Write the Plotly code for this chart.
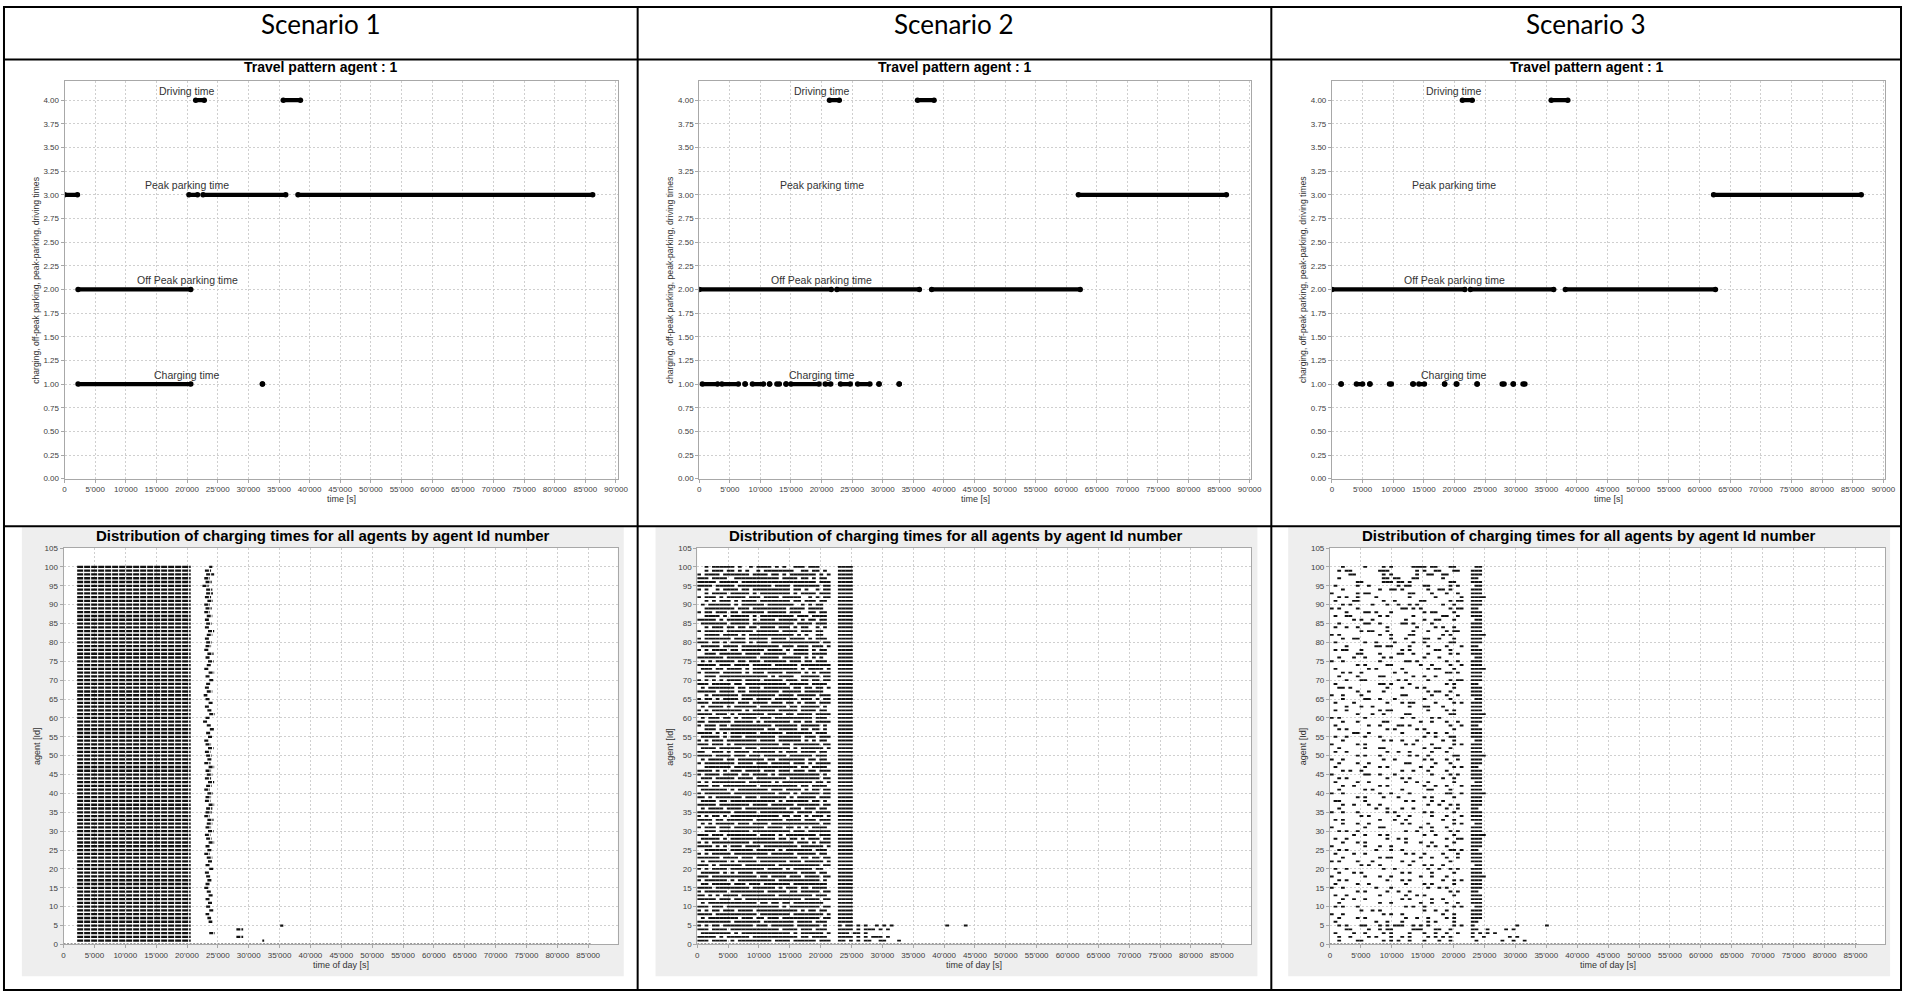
import plotly.graph_objects as go

W, H = 1914, 996
FONT = "Liberation Sans, Arial, sans-serif"

SCENARIOS = ["Scenario 1", "Scenario 2", "Scenario 3"]
TOP_TITLE = "Travel pattern agent : 1"
BOTTOM_TITLE = "Distribution of charging times for all agents by agent Id number"

# ---------------- travel pattern of agent 1: (start, end) in seconds ----------------
STATE_LEVELS = [4, 3, 2, 1]
STATE_LABELS = ["Driving time", "Peak parking time", "Off Peak parking time", "Charging time"]
LABEL_TIME = 20000

S1_PATTERN = {
    4: [(21400, 22800), (35700, 38500)],
    3: [(0, 2100), (20300, 21700), (22600, 36100), (38100, 86200)],
    2: [(2200, 20600)],
    1: [(2200, 20600), (32300, 32300)],
}
S2_PATTERN = {
    4: [(21300, 22900), (35700, 38400)],
    3: [(62000, 86200)],
    2: [(0, 21600), (22500, 36000), (38000, 62300)],
    1: [(500, 3000), (3700, 6400), (7500, 7500), (8700, 10500), (11500, 11500),
        (12700, 13100), (14200, 14200), (15000, 19600), (20600, 21500),
        (23100, 24700), (25900, 27900), (29400, 29400), (32700, 32700)],
}
S3_PATTERN = {
    4: [(21300, 22900), (35800, 38500)],
    3: [(62300, 86400)],
    2: [(0, 21700), (22600, 36200), (38100, 62600)],
    1: [(1500, 1500), (4000, 5000), (6200, 6200), (9400, 9700), (13200, 13300),
        (14200, 15100), (18400, 18400), (20300, 20400), (23700, 23700),
        (27800, 28100), (29600, 29600), (31200, 31500)],
}
PATTERNS = [S1_PATTERN, S2_PATTERN, S3_PATTERN]

# ---------------- charging times of all agents ----------------
ZERO_ROW = (0, 85500)          # time-stamp row drawn at agent 0

# scenario 1: every agent charges over one common block, then once more later
S1_BLOCK = (2200, 20600)
S1_LATE = [  # agents 100 -> 1
    (23600, 24100), (22900, 23900), (23100, 24400), (22800, 23700), (23000, 24000),
    (22500, 23500), (23100, 24100), (23100, 24200), (22900, 23900), (23300, 24200),
    (22800, 23700), (23000, 24000), (22800, 23700), (23200, 24100), (22900, 23700),
    (23100, 24000), (22900, 23700), (23400, 24400), (23200, 24100), (22900, 23700),
    (23100, 24000), (23000, 23900), (22800, 23600), (23300, 24300), (23000, 23800),
    (23400, 24300), (23200, 24000), (22800, 23600), (23500, 24400), (23000, 23700),
    (23600, 24400), (23100, 23800), (22900, 23700), (23200, 24100), (22700, 23300),
    (23000, 23700), (23500, 24300), (22900, 23600), (23300, 24000), (23600, 24500),
    (23000, 23800), (22600, 23300), (23200, 24000), (23700, 24400), (23100, 23900),
    (23400, 24200), (22800, 23500), (23000, 23900), (23400, 24300), (22900, 23800),
    (23100, 24000), (23300, 24100), (22800, 23800), (23500, 24400), (23000, 23900),
    (23200, 24100), (22900, 23900), (23400, 24400), (23100, 24000), (22800, 23700),
    (23300, 24200), (23000, 23900), (22900, 23800), (23500, 24400), (23100, 24100),
    (23000, 24000), (22800, 23700), (23300, 24300), (23200, 24100), (23000, 23900),
    (23400, 24300), (22900, 23800), (23100, 24000), (23500, 24400), (23000, 23800),
    (23300, 24100), (22800, 23700), (23200, 24100), (23400, 24200), (23000, 23800),
    (23600, 24400), (22900, 23700), (23100, 23900), (23300, 24100), (23000, 23700),
    (22800, 23600), (23200, 24000), (23500, 24200), (23000, 23700), (23400, 24100),
    (23100, 23800), (23600, 24300), (23000, 23600), (23300, 23900), (23500, 24100),
    (35100, 35600), (28000, 29100), (23600, 24500), (28000, 29100), (32200, 32500),
]

# scenarios 2 and 3: one character per 600 s slot, '#' = charging.
# Text after '|' continues from slot 38 (22'800 s). Rows run from agent 100 down to 1.
SLOT = 600
LATE_SLOT = 38

S2_ROWS = [
    "..#.## ####.# ..#.## ##.#.# ..###. ###...|####",
    "..#.## #.##.# .#..#. ###### ##..## .##.#.|####",
    "#.#### .##### ##.### #.##.# .##### ##.#.#|####",
    "###.## ##..## ###### ####.# ###.## .#.##.|####",
    "#####. #####. ###### ###### ###### ##.###|####",
    "####.# ####.# ###### ##.### #.#### ###.##|####",
    "#.#..# .####. ##.### ###### #.##.# ..#.##|####",
    "..#.## ##.### ##.#.# ###### #.#.## ##.###|####",
    "#.###. #.#### #.###. ####.# ####.. #.#.##|####",
    "..#.#. ###.#. ####.# ###### #.##.# ##.##.|####",
    ".#.### ###.#. ###### .##### ##..#. #.##..|####",
    "..#### ####.# ##.### ###### .####. ####..|####",
    "#.##.# ##.##. ###### .##### .###.. ##.##.|####",
    "..#### .#.### ##.#.# ###### ##.### .####.|####",
    "#####. #.#### ##.#.# ###.## ###.#. ##.##.|####",
    ".##### ##.### ##.### ###### ##.### #.###.|####",
    "..#.## #.##.# #.##.# ###.## #.#.## ..#.#.|####",
    "#.#### #.#### ###.## ####.# ###.## #.##..|####",
    "..#### .####. #.#### ###### ##.#.# ..##..|####",
    "#.#### ###.## #.#### #.#### .####. #.###.|####",
    "###.## .#.### #.#.## #.#### ###### ###.##|####",
    ".##### .####. ###### ####.# ##.### .###.#|####",
    "#.#.## ##.##. ###### .####. #.#### .#.##.|####",
    "..###. ###### .####. ###### ..#### .####.|####",
    "###### #.#### ####.# ####.# ####.# .#.#..|####",
    ".#.#.# ####.# #.###. ###### .###.# #.###.|####",
    "#####. ###.## ##.### ##.### ###.## ######|####",
    ".###.# #.#### .#.### ###### ###.#. ####.#|####",
    "#.#### .##### .#.### .####. ####.# .#.###|####",
    "..###. ###### ###### #.#.## ##..## ###.##|####",
    "#.#.#. #.#### .####. #####. ###.## .##.##|####",
    "###.## ###.## .##### ###### .##### .####.|####",
    ".#.### ####.# #.###. ###### #.##.# #.##.#|####",
    "#####. ####.# #.#### ####.# ####.# ####..|####",
    "..#.## #####. ###### ###.## ##.### ##.###|####",
    "#.##.# .####. ###.## ##.### ###.## #.#.##|####",
    "###.## ####.# ##.### #.###. ##.#.# ##.###|####",
    ".#.### #.#.## ####.# ###### .##.## ###.#.|####",
    "#.#.## ###### .#.### ###.## ###.## ##.##.|####",
    "####.# ##.#.# ###### .####. ##.### #.####|####",
    ".#.### .##.#. ####.# ##.### ###### #.###.|####",
    "##.### ###.## ###.#. ###### #.##.# #.####|####",
    "#.###. ##.### ###### ##.### ###.## ###.#.|####",
    "..###. ###### ###### .##.## ###.## .##.#.|####",
    "####.# .#.### ####.# #####. ###### #.###.|####",
    ".##### .#.### .##### ###.## ####.# ##.###|####",
    "#.#.## #.#### ####.# ###.## ####.# .#.##.|####",
    "###.## #.#.## ###### ####.# #.#### ###.##|####",
    ".####. ###### .###.# ###### #.#.## ####.#|####",
    "##..## #.#.## ##.### ###.#. ###.## ##.##.|####",
    "####.# ###.## #.###. ###### .##### #.###.|####",
    ".#.### #.##.# ###### .##.## #####. ##.##.|####",
    "#.#### ####.# ###.## #.#### #.###. #.####|####",
    "..#### ###.## ###### ###### ###.## .####.|####",
    "####.# .#.### .####. ###.## #.###. ##.###|####",
    "#.#### .####. ##.### #.#.## ###### ###.#.|####",
    ".###.# ####.# ###.## ###### .##### ###.##|####",
    "#.#.## ###### #.#### ##.#.# ###### #.##.#|####",
    "###.## .##### ####.# ###### ###.## .####.|####",
    ".##### ##.#.# ###### #.###. ####.# .##.##|####",
    "#.#### ###.## ###### ###.## #.#.## ###.##|####",
    "##.#.# ###### .###.# ###### .#.### ##.###|####",
    ".####. ##.### ###### ###.#. ###### .##.#.|####",
    "#####. ###### ##.### #.#### ##.### ###.##|####",
    ".#.### #.#### .##### ###### .###.# ##.##.|####",
    "###### ###.## ####.# ###### ##.### #.####|####",
    "#.#.## .#.### ###### ####.# #.##.# .###.#|####",
    "####.# #.#### ###.## #####. ####.# ##.###|####",
    ".#.#.# ####.# ##.### #.#### ###### ###.##|####",
    "#.###. ###.## ###### .####. ##.#.# .####.|####",
    "..###. ###### ##.### ###### #.###. ######|####",
    "###.## #.#### ####.# ###.#. ###### ##.###|####",
    ".##### .#.### ###### ###.## .##.#. ###.##|####",
    "#.#.## ###### ##.### ###### ##.### .#.###|####",
    "####.# .#.### .####. ###### ###.## ####.#|####",
    "..#### ##.### ###.## ###.#. ###### #.###.|####",
    "#.#.## ###.## ###### #.#### ##.### ##.##.|####",
    "###### .####. ###.## ###### ###.## .##.##|####",
    ".#.### ##.#.# ####.# ###### .###.# ####.#|####",
    "###.#. ###### .##### ###.## ###### ###.##|####",
    "#.#.## ##.### ###### .####. #.#### #.##..|####",
    ".##### .#.#.# ###.## ###### ###.## ##.##.|####",
    "###.## ###### ####.# #.#### .###.# ###.##|####",
    "#.#### ##.#.# ###### ###.## ###### ###.#.|####",
    ".##.## ###.## #.###. ###### #.#### #####.|####",
    "####.# ###### ##.### ###.#. ###.## .####.|####",
    "#.#### ##.### ###### .##### .##.## ###.##|####",
    "##.#.# .####. ###### ###.## ###### #.###.|####",
    "#####. ###.## .##### ###### ####.# ###.##|####",
    ".#.### ###### ####.# #.##.# #.#### ####..|####",
    "###.## #.#### ###### ####.# .##### ###.##|####",
    "#.#.## .###.# ###.## ###### ###.#. ##.##.|####",
    "####.# ###### ####.# ###### #.#### ####.#|####",
    ".#.### #####. ###.## .###.# ###### ###.##|####",
    "###### ###.## #####. ###### ##.### #.###.|####",
    "#.#.## .##### ###.## #.#### ##.### ###.#.|#.##.#.#..#.#.#..............#....#",
    "###.## ##.### ###### ####.# ###.## #.###.|####.#.###.#.#",
    ".##### ###.#. ###### ###### #.#.## ####.#|###.##.#",
    "#####. #.#### ##.### ###### ###.## .####.|####.#.#.###.#",
    "###.## ##.#.# ###### ##.### #.#### ##.###|##.#.#.##..##...#",
]

S3_ROWS = [
    "...#.. ...#.. ..#.#. ....## ##.##. ..##..|.##",
    "..#.## ...... .###.. .....# .#..## ...##.|###",
    ".....# #..... ..#.#. .....# ..##.. ##....|###",
    "..#... ...... ..##.# #...## ...... #.....|##",
    "...... .##... ..###. ##.#.. ...... ..##..|###",
    ".#.... .#..#. ...... #.##.. .##... ..#.#.|.##",
    "...#.. ...... .#..## .#.... ..#..# #.#...|###",
    "#..... .#.##. ...... ...##. ...#.. .#..#.|###",
    "..#.#. .#.... #..... ...#.. ....#. .....#|####",
    ".#.... ##.... ..#..# ...... ##.... ..#.##|###",
    "...#.# .....# ...#.. #..#.# ...... #..#..|###",
    "#.#... .#.... ...... .##.#. #..... ..#.##|##",
    "....#. ...##. #...#. ...... .#.##. ...#..|###",
    ".#..## ...... .#.#.. ....#. ...... ##..#.|###",
    "...... #.#..# ...... ..#... .#..## ...#..|.##",
    "..#... ...##. .#.... .##.#. ...#.. ......|###",
    ".#..#. .#.... ...#.. .....# ....#. #..#..|###",
    "...... ..#.## ...#.. ....#. ..#... .#.##.|###",
    "#.#... ...... .#..#. ...##. ...... #.#...|####",
    "...#.. ##.... ....#. ..#... .##..# ...#..|###",
    ".#.... ...#.. #....# ....#. .#.... ..##..|###",
    "....#. ...... ##.##. ...#.. ..#... .#...#|##",
    ".#.##. ..#... ...... .#.#.. ....## ..#...|###",
    "...... .##... .#.... ##..#. ..#... ..#.#.|###",
    "..#... #..#.. ..#.#. ...... .#...# ......|.##",
    "#..#.. ...... .#.... ..##.# ...... .#..#.|###",
    "...... .#.#.. ...##. ...... #..#.. ..#..#|###",
    ".#.... ....#. #..... .#.... ..#.## ...#..|####",
    "...#.# ..#... .....# ..#... ...... .##.#.|###",
    "..#... .#.... .##... ....#. .#..#. ......|###",
    "....#. ..##.. ...... #.#... ..#... ..#.##|###",
    ".#.... ...... .##.#. ...#.. ...... .#.#..|##",
    "..##.# ...... ...#.. .#...# .#.... ...#..|###",
    "...... .#..#. ..#... ...... ..#.## ..#...|###",
    "#..#.. ..#... ...... .##... ...#.. .#..#.|###",
    "...#.. ...##. .#...# ...... .#.... ..#...|.##",
    ".#.... #..... ...#.. .#.##. ....#. ...#.#|###",
    "....#. ..#..# ...... ...#.. .##... #.....|###",
    ".#..#. ...... .#.##. ...... ..#... .#.#..|###",
    "...... .#...# ..#... ..##.. ...... ..##..|####",
    "#.#... ...#.. ...... .#..#. ...#.# ......|###",
    "...#.. .#.... ..##.. ...... #..#.. .#..#.|###",
    ".#.... ....#. .#.... ##.#.. ...... ..#..#|##",
    "..#.#. ...... ...#.# .....# .#.... ...#..|###",
    "...... ##..#. ...... .#.... ..#.#. .#....|###",
    ".#..#. ...#.. .#.... ...... .#..#. ..##..|###",
    "...#.. ...... ..#.#. .#...# ...... #..#..|.##",
    "#..... .#.#.. ...... ..#.#. ...#.. ...#.#|###",
    "..#... ...#.. .##... ...... .#..## ..#...|###",
    ".#..#. ...... ...#.. #..#.. ...#.. .#....|###",
    "...... .#.#.. .#.... ...#.# ..#... ...##.|####",
    "#..#.. ...... ..#..# ...... .#.#.. .#..#.|###",
    "..#... .#..#. ...... ..##.. ....#. ..#...|###",
    ".#.... ...#.. .#.#.. ...... #..#.. ...#.#|##",
    "...#.# ..#... ...... .#..#. ..#... .#....|###",
    "#..... ...##. .#...# ...... ...#.. ..#.#.|###",
    "..#.#. ...... ...#.. .#.#.. ...... #..#..|###",
    ".#.... .#..#. ...... ..#..# ..#... ...#..|.##",
    "...#.. #..... .#.#.. ...... .#..#. .#...#|###",
    "..#... ...#.# ...... .#.... ..##.. ..#...|###",
    "#..#.. ...... .#..#. ...#.. ...... .##..#|####",
    "...... .#.#.. ..#... #..... .#.#.. ...#..|###",
    ".##... ...#.. ...... ..#.#. ...#.. #.....|###",
    "...#.. #...#. .#.... ...... ..#..# ..#.#.|###",
    "..#... ...... #..#.. .#..#. ...... .#..#.|##",
    "#..#.. .#.... ...#.# ...... .#.#.. ...#..|###",
    "...... ..#.#. ...... #..#.. ...#.. .#...#|###",
    ".#.#.. ...... .#...# ..#... ...... #..#..|###",
    "...#.. .#..#. ...... .#.#.. ..#... ...#.#|.##",
    "#..... ...#.. .##... ...... #..#.. .#....|###",
    "..#.#. .#.... ...... ..#..# ...#.. ..#.#.|###",
    "...... #..#.. .#.#.. ...... .#..#. ...#..|####",
    ".#..#. ...... ...#.. #.#... ...... .#..##|###",
    "...#.. .#.#.. ...... ..#... #..#.. ...#..|###",
    "#..... ...#.. .#..#. ...... ..#.#. .#....|###",
    "..#.#. ...... #...#. .#.... ...... ..##.#|##",
    ".#.... #..#.. ...... ..#.#. .#.... #...#.|###",
    "...#.. ...... .#.##. ...... #..#.. .#..#.|###",
    "#.#... .#...# ...... .#..#. ...... ..#...|###",
    "...... ..#.#. .#.... ...#.. .#.#.. #.....|.##",
    ".#..#. ...... ..#..# ...... ..#..# ..#.#.|###",
    "..#... #.#... ...... .#.#.. ...#.. ...#..|###",
    "#..... ...#.. .#..#. ...... #..#.. .#....|####",
    "..#.#. ...... ...#.. .#.#.. ...... #..#.#|###",
    ".#.... .#..#. ...... ..#... .#.#.. ...#..|###",
    "#..#.. ...... #...#. ...... ..#..# .#....|###",
    "...... .#.#.. ...#.. #..#.. ...... ..#.#.|##",
    ".#..#. ...... .#.... ..#..# .#.... ...#..|###",
    "...#.. #..#.. ...... .#.#.. ...#.. #.....|###",
    "..#... ...... .#..#. ...... #..#.. .#..#.|###",
    ".#.#.. .#.... ...... ..#.#. .#.... ...#.#|.##",
    "...... ..#..# .#.... ...... .#..#. .#....|###",
    "#..#.. ...... ..#.#. .#.... ...... #..#..|###",
    "..#... .#.#.. ...... ..#..# ..#... .#.#..|###",
    ".#.... ...... #..#.. .#.... ..#.#. ...#..|##",
    "..#.#. ..##.. .#.#.# ##..#. #.#... ...#.#|#...........#.......#",
    "....## ....#. .#.##. ....## #...## ..#...|##..#....#.#",
    ".#.... #..#.. ..#.#. ...#.. .#..#. .#..#.|#.#.#.#",
    "..#..# ....#. #...#. .#.#.. ..#.#. #.#...|#..#......#.#",
    "..#... .##... ..#.#. #..#.. .#...# ..#...|.#......#..#..#",
]

# ---------------- layout geometry (pixels) ----------------
COL_EDGES = [2, 640, 1278, 1912]
HEADER_BOTTOM = 56
ROW_DIVIDER = 527
TOP_PLOTS = [(63, 620), (702, 1258), (1339, 1896)]
TOP_Y = (78, 479)
BOT_PLOTS = [(62, 620), (700, 1258), (1337, 1896)]
BOT_Y = (549, 949)
BOT_PANELS = [(20, 626), (658, 1264), (1295, 1901)]
BOT_PANEL_Y = (528, 981)


def fx(p):
    return p / W


def fy(p):
    return 1 - p / H


def parse_rows(rows):
    xs, ys = [], []
    n = len(rows)
    for i, row in enumerate(rows):
        agent = n - i
        main, _, late = row.partition("|")
        main = main.replace(" ", "")
        for k, c in enumerate(main):
            if c == "#":
                xs.append(k * SLOT + SLOT / 2)
                ys.append(agent)
        for k, c in enumerate(late):
            if c == "#":
                xs.append((LATE_SLOT + k) * SLOT + SLOT / 2)
                ys.append(agent)
    return xs, ys


def segments(pairs, level):
    xs, ys = [], []
    for a, b in pairs:
        xs += [a, b, None]
        ys += [level, level, None]
    return xs, ys


def paper_text(px, py, text, size, color="#333", family=FONT, angle=0):
    return dict(x=fx(px), y=fy(py), xref="paper", yref="paper", text=text,
                showarrow=False, xanchor="center", yanchor="middle", textangle=angle,
                font=dict(family=family, size=size, color=color))


fig = go.Figure()
layout = dict(
    width=W, height=H, margin=dict(l=0, r=0, t=0, b=0),
    paper_bgcolor="white", plot_bgcolor="white",
    showlegend=False, separators=".'",
    font=dict(family=FONT, color="#222"),
)

axis_style = dict(
    showgrid=True, gridcolor="#cfcfcf", griddash="2px,2px", gridwidth=1,
    showline=True, linecolor="#a8a8a8", linewidth=1, mirror=True,
    ticks="outside", ticklen=3, tickcolor="#a8a8a8",
    tickfont=dict(family=FONT, size=8, color="#404040"),
    zeroline=False, fixedrange=True,
)

annotations = []
shapes = []

# ---------------- top row: travel pattern of agent 1 ----------------
for s in range(3):
    idx = s + 1
    xa = "x" if idx == 1 else f"x{idx}"
    ya = "y" if idx == 1 else f"y{idx}"
    x0, x1 = TOP_PLOTS[s]
    layout["xaxis" if idx == 1 else f"xaxis{idx}"] = dict(
        axis_style, domain=[fx(x0), fx(x1)], anchor=ya, range=[0, 90300],
        tick0=0, dtick=5000, tickformat=",d")
    layout["yaxis" if idx == 1 else f"yaxis{idx}"] = dict(
        axis_style, domain=[fy(TOP_Y[1]), fy(TOP_Y[0])], anchor=xa, range=[0, 4.2],
        tick0=0, dtick=0.25, tickformat=".2f")
    for lvl, label in zip(STATE_LEVELS, STATE_LABELS):
        xs, ys = segments(PATTERNS[s][lvl], lvl)
        fig.add_trace(go.Scatter(
            x=xs, y=ys, xaxis=xa, yaxis=ya, mode="lines+markers",
            line=dict(color="black", width=4.2),
            marker=dict(color="black", size=5.5), hoverinfo="skip"))
        annotations.append(dict(
            x=LABEL_TIME, y=lvl + 0.1, xref=xa, yref=ya, text=label, showarrow=False,
            xanchor="center", yanchor="middle",
            font=dict(family=FONT, size=10.5, color="#333")))
    col_c = (COL_EDGES[s] + COL_EDGES[s + 1]) / 2
    annotations.append(paper_text(col_c, 64, f"<b>{TOP_TITLE}</b>", 14, "black"))
    annotations.append(paper_text((x0 + x1) / 2, 500, "time [s]", 9))
    annotations.append(paper_text(x0 - 29, (TOP_Y[0] + TOP_Y[1]) / 2,
                                  "charging, off-peak parking, peak-parking, driving times",
                                  8.6, angle=-90))

# ---------------- bottom row: charging times of all agents ----------------
grid_rows = [None, S2_ROWS, S3_ROWS]
for s in range(3):
    idx = s + 4
    xa, ya = f"x{idx}", f"y{idx}"
    x0, x1 = BOT_PLOTS[s]
    layout[f"xaxis{idx}"] = dict(
        axis_style, domain=[fx(x0), fx(x1)], anchor=ya, range=[0, 89800],
        tick0=0, dtick=5000, tickformat=",d")
    layout[f"yaxis{idx}"] = dict(
        axis_style, domain=[fy(BOT_Y[1]), fy(BOT_Y[0])], anchor=xa, range=[0, 105],
        tick0=0, dtick=5)
    px0, px1 = BOT_PANELS[s]
    # grey chart panel, then the white plotting area on top of it
    shapes.append(dict(type="rect", xref="paper", yref="paper", layer="below",
                       x0=fx(px0), x1=fx(px1), y0=fy(BOT_PANEL_Y[1]), y1=fy(BOT_PANEL_Y[0]),
                       fillcolor="#eeeeee", line=dict(width=0)))
    shapes.append(dict(type="rect", xref="paper", yref="paper", layer="below",
                       x0=fx(x0), x1=fx(x1), y0=fy(BOT_Y[1]), y1=fy(BOT_Y[0]),
                       fillcolor="white", line=dict(width=0)))

    fig.add_trace(go.Scatter(
        x=[ZERO_ROW[0], ZERO_ROW[1]], y=[0, 0], xaxis=xa, yaxis=ya, mode="lines",
        line=dict(color="#333", width=2, dash="2px,1.5px"), hoverinfo="skip", cliponaxis=False))

    if s == 0:
        n = len(S1_LATE)
        bx, by, lx, ly = [], [], [], []
        for i, (a, b) in enumerate(S1_LATE):
            agent = n - i
            bx += [S1_BLOCK[0], S1_BLOCK[1], None]
            by += [agent, agent, None]
            lx += [a, b, None]
            ly += [agent, agent, None]
        fig.add_trace(go.Scatter(
            x=bx, y=by, xaxis=xa, yaxis=ya, mode="lines",
            line=dict(color="#111", width=2.3, dash="6px,1px"), hoverinfo="skip"))
        fig.add_trace(go.Scatter(
            x=lx, y=ly, xaxis=xa, yaxis=ya, mode="lines",
            line=dict(color="#111", width=2.3, dash="4px,1px"), hoverinfo="skip"))
    else:
        xs, ys = parse_rows(grid_rows[s])
        fig.add_trace(go.Scatter(
            x=xs, y=ys, xaxis=xa, yaxis=ya, mode="markers",
            marker=dict(symbol="line-ew", size=2.7, line=dict(width=1.9, color="#111")),
            hoverinfo="skip"))

    annotations.append(paper_text((px0 + px1) / 2, 536, f"<b>{BOTTOM_TITLE}</b>", 15, "black"))
    annotations.append(paper_text((x0 + x1) / 2, 970, "time of day [s]", 9))
    annotations.append(paper_text(x0 - 27, (BOT_Y[0] + BOT_Y[1]) / 2, "agent [Id]", 9, angle=-90))

# ---------------- table frame and scenario headers ----------------
for s, name in enumerate(SCENARIOS):
    annotations.append(paper_text((COL_EDGES[s] + COL_EDGES[s + 1]) / 2, 20, name, 26,
                                  "black", family="Lato, Open Sans, sans-serif"))

line = dict(color="black", width=2)
shapes.append(dict(type="rect", xref="paper", yref="paper", layer="above",
                   x0=fx(COL_EDGES[0]), x1=fx(COL_EDGES[3]), y0=fy(995), y1=fy(3), line=line))
for xc in COL_EDGES[1:3]:
    shapes.append(dict(type="line", xref="paper", yref="paper", layer="above",
                       x0=fx(xc), x1=fx(xc), y0=fy(995), y1=fy(3), line=line))
for yc in (HEADER_BOTTOM, ROW_DIVIDER):
    shapes.append(dict(type="line", xref="paper", yref="paper", layer="above",
                       x0=fx(COL_EDGES[0]), x1=fx(COL_EDGES[3]), y0=fy(yc), y1=fy(yc), line=line))

layout["annotations"] = annotations
layout["shapes"] = shapes
fig.update_layout(**layout)
fig.write_html("out.html")
